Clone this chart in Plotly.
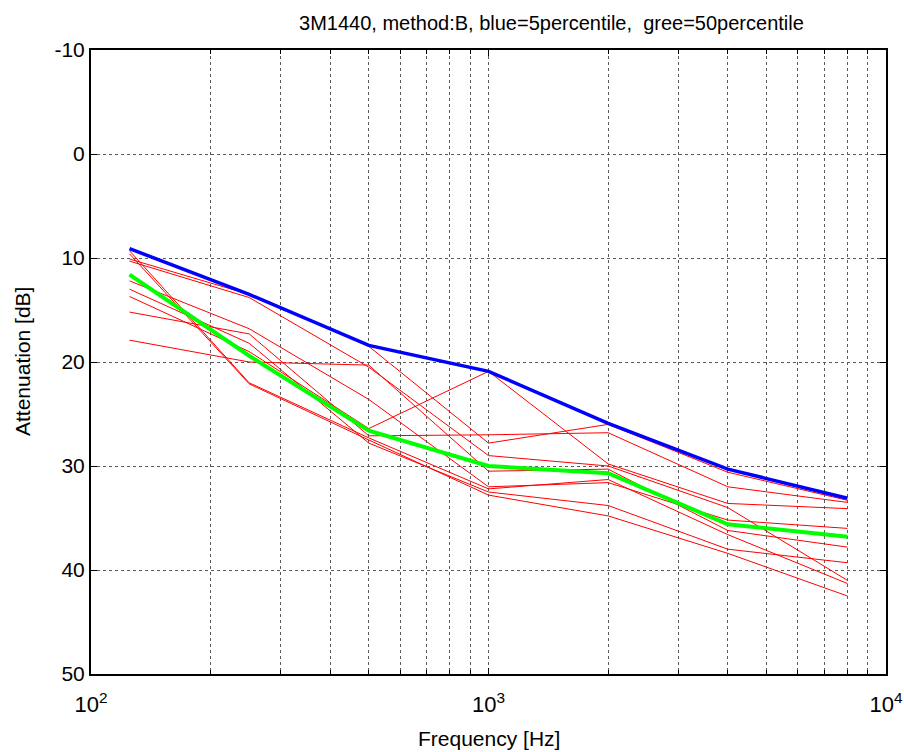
import plotly.graph_objects as go

freqs = [125, 250, 500, 1000, 2000, 4000, 8000]

red_series = [
    [9.3, 22.0, 27.3, 32.2, 31.3, 36.6, 41.3],
    [9.6, 22.1, 27.5, 32.8, 34.8, 38.4, 42.5],
    [10.1, 13.5, 18.5, 27.8, 26.0, 30.6, 33.3],
    [10.3, 13.8, 20.5, 29.0, 30.0, 34.0, 41.0],
    [12.2, 16.8, 23.6, 32.0, 31.6, 35.2, 36.0],
    [13.0, 18.2, 27.8, 32.5, 33.8, 38.0, 39.3],
    [13.7, 19.0, 26.4, 20.9, 29.8, 33.6, 34.1],
    [15.2, 17.3, 27.1, 27.0, 26.8, 32.0, 33.5],
    [17.9, 20.0, 20.3, 30.5, 30.3, 36.2, 37.8],
]
blue_p5 = [9.1, 13.5, 18.4, 20.9, 25.9, 30.3, 33.1]
green_p50 = [11.6, 19.4, 26.6, 30.0, 30.7, 35.6, 36.8]

x_major = [100, 1000, 10000]
x_major_text = ["10<sup>2</sup>", "10<sup>3</sup>", "10<sup>4</sup>"]
x_minor = [200, 300, 400, 500, 600, 700, 800, 900,
           2000, 3000, 4000, 5000, 6000, 7000, 8000, 9000]
y_ticks = [-10, 0, 10, 20, 30, 40, 50]
y_tick_text = ["-10", "0", "10", "20", "30", "40", "50"]

title_text = "3M1440, method:B, blue=5percentile,\u00a0\u00a0gree=50percentile"
x_label = "Frequency [Hz]"
y_label = "Attenuation [dB]"

fig = go.Figure()
for s in red_series:
    fig.add_trace(go.Scatter(x=freqs, y=s, mode="lines",
                             line=dict(color="#ff0000", width=1),
                             showlegend=False, hoverinfo="skip"))
fig.add_trace(go.Scatter(x=freqs, y=blue_p5, mode="lines",
                         line=dict(color="#0000ff", width=3.5), showlegend=False))
fig.add_trace(go.Scatter(x=freqs, y=green_p50, mode="lines",
                         line=dict(color="#00ff00", width=4), showlegend=False))

font_family = "Liberation Sans, Arial, sans-serif"
grid = dict(showgrid=True, gridcolor="#5a5a5a", griddash="dot", gridwidth=1)

fig.update_layout(
    width=904, height=752,
    margin=dict(l=91, r=18, t=50, b=78, autoexpand=False),
    paper_bgcolor="white", plot_bgcolor="white",
    font=dict(family=font_family, color="black"),
    title=dict(text=title_text, xref="container", x=0.61, xanchor="center",
               yref="container", y=0.969, yanchor="middle",
               font=dict(size=20, family=font_family, color="black")),
    showlegend=False,
    annotations=[
        dict(text=x_label, xref="paper", yref="paper", x=0.5, y=0,
             xanchor="center", yanchor="middle", yshift=-64, showarrow=False,
             font=dict(size=21, family=font_family, color="black")),
        dict(text=y_label, xref="paper", yref="paper", x=0, y=0.5,
             xanchor="center", yanchor="middle", xshift=-69, showarrow=False,
             textangle=-90, font=dict(size=21, family=font_family, color="black")),
    ],
)
fig.update_xaxes(
    type="log", range=[2, 4], automargin=False,
    tickvals=x_major, ticktext=x_major_text,
    ticks="inside", ticklen=6, tickcolor="black", ticklabelstandoff=10,
    showline=True, linecolor="black", linewidth=2, mirror="ticks",
    tickfont=dict(size=22, family=font_family),
    zeroline=False,
    minor=dict(tickvals=x_minor, ticks="inside", ticklen=4, tickcolor="black",
               showgrid=True, gridcolor="#5a5a5a", griddash="dot", gridwidth=1),
    **grid,
)
fig.update_yaxes(
    range=[50, -10], automargin=False,
    tickvals=y_ticks, ticktext=y_tick_text,
    ticks="inside", ticklen=6, tickcolor="black",
    showline=True, linecolor="black", linewidth=2, mirror="ticks",
    tickfont=dict(size=21, family=font_family),
    zeroline=False,
    **grid,
)

fig.write_html("out.html")
